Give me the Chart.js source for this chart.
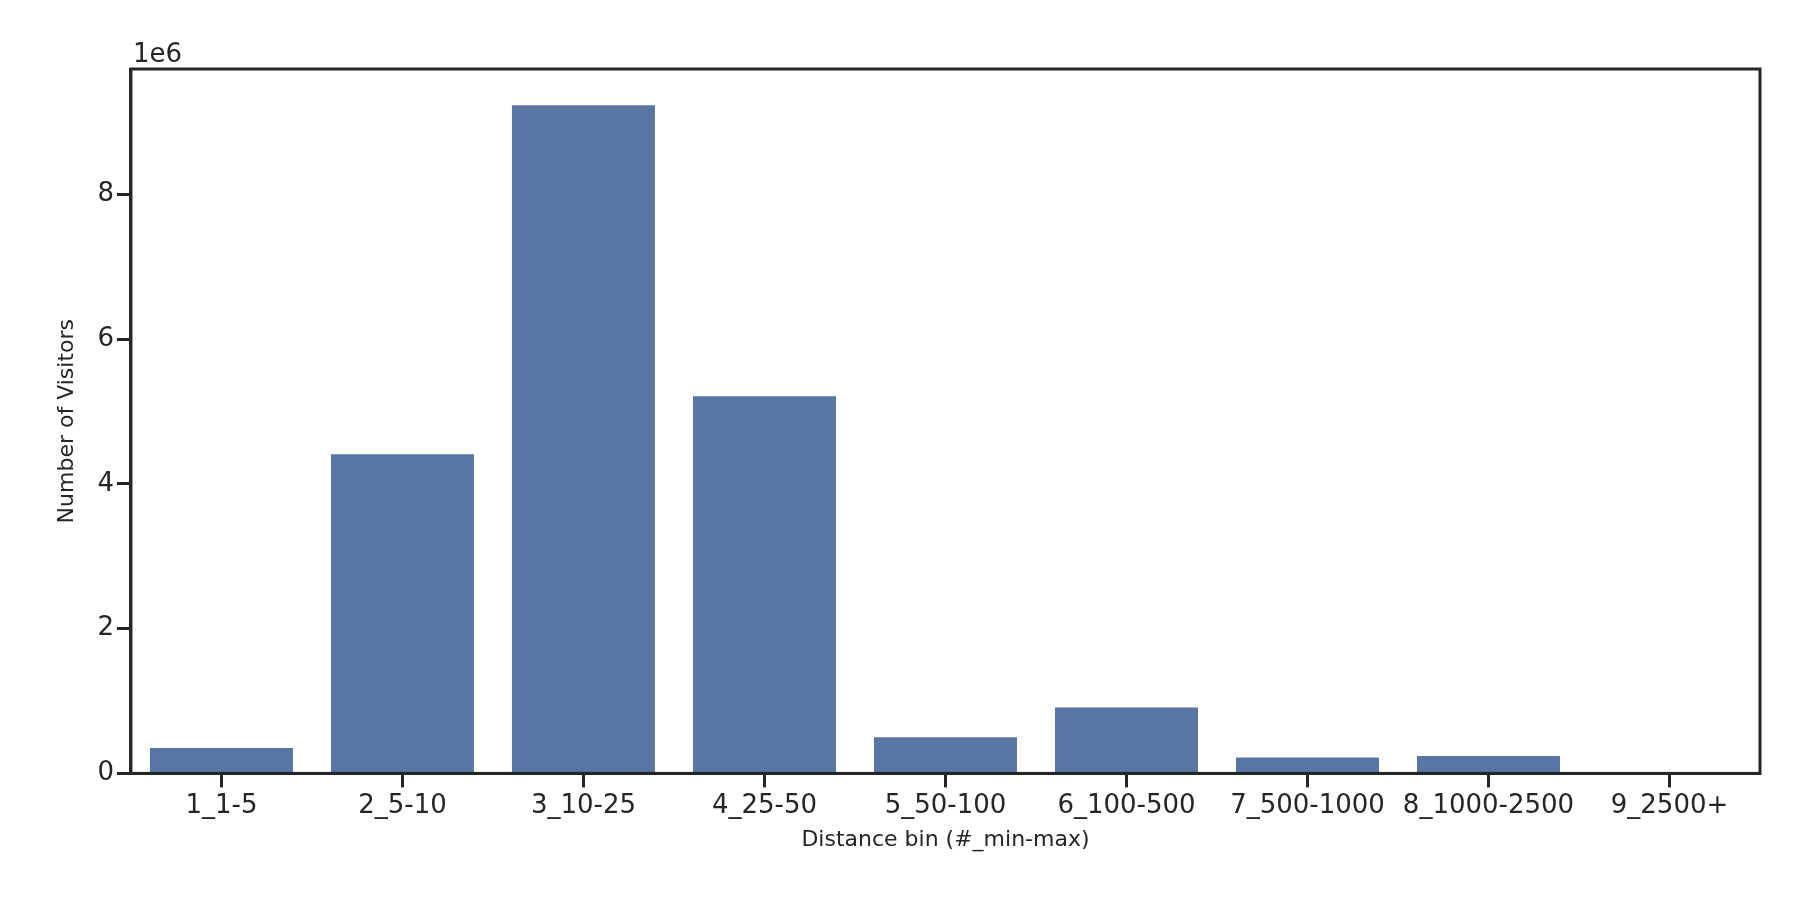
<!DOCTYPE html>
<html>
<head>
<meta charset="utf-8">
<script src="https://cdn.jsdelivr.net/npm/chart.js@4/dist/chart.umd.min.js"></script>
<style>
  html, body { margin: 0; padding: 0; background: #fff; }
  #wrap { width: 1800px; height: 900px; }
</style>
</head>
<body>
<div id="wrap"><canvas id="chart" width="1800" height="900"></canvas></div>
<script>
// Data
const categories = ['1_1-5', '2_5-10', '3_10-25', '4_25-50', '5_50-100', '6_100-500', '7_500-1000', '8_1000-2500', '9_2500+'];
const visitors = [350000, 4410000, 9230000, 5210000, 500000, 910000, 220000, 240000, 5000];
const yTicks = [0, 2000000, 4000000, 6000000, 8000000];

const ink = '#262626';

// frame box + "1e6" offset label
const framePlugin = {
    id: 'frame',
    afterDraw(chart) {
        const { ctx, chartArea: a } = chart;
        ctx.save();
        ctx.strokeStyle = ink;
        ctx.lineWidth = 3;
        ctx.strokeRect(a.left, a.top, a.right - a.left, a.bottom - a.top);
        ctx.fillStyle = ink;
        ctx.font = '26px "DejaVu Sans"';
        ctx.textBaseline = 'bottom';
        ctx.fillText('1e6', a.left + 2, a.top - 1);
        ctx.restore();
    }
};

const ctx = document.getElementById('chart').getContext('2d');
new Chart(ctx, {
    type: 'bar',
    data: {
        labels: categories,
        datasets: [{
            data: visitors,
            backgroundColor: '#5875a4',
            categoryPercentage: 0.79,
            barPercentage: 1
        }]
    },
    options: {
        responsive: false,
        animation: false,
        layout: { padding: { top: 69, right: 40, left: 40, bottom: 45 } },
        plugins: { legend: { display: false }, tooltip: { enabled: false } },
        scales: {
            x: {
                grid: { offset: false, drawOnChartArea: false, tickLength: 14, tickColor: ink, tickWidth: 3 },
                border: { color: ink, width: 3 },
                ticks: { color: ink, font: { family: 'DejaVu Sans', size: 26 }, maxRotation: 0, autoSkip: false },
                title: { display: true, text: 'Distance bin (#_min-max)', color: ink, font: { family: 'DejaVu Sans', size: 22 }, padding: 2 }
            },
            y: {
                min: 0,
                max: 9730000,
                afterBuildTicks(axis) { axis.ticks = yTicks.map(v => ({ value: v })); },
                grid: { drawOnChartArea: false, tickLength: 14, tickColor: ink, tickWidth: 3 },
                border: { color: ink, width: 3 },
                ticks: {
                    color: ink,
                    font: { family: 'DejaVu Sans', size: 26 },
                    callback: v => String(v / 1e6)
                },
                title: { display: true, text: 'Number of Visitors', color: ink, font: { family: 'DejaVu Sans', size: 22 }, padding: 14 }
            }
        }
    },
    plugins: [framePlugin]
});
</script>
</body>
</html>
